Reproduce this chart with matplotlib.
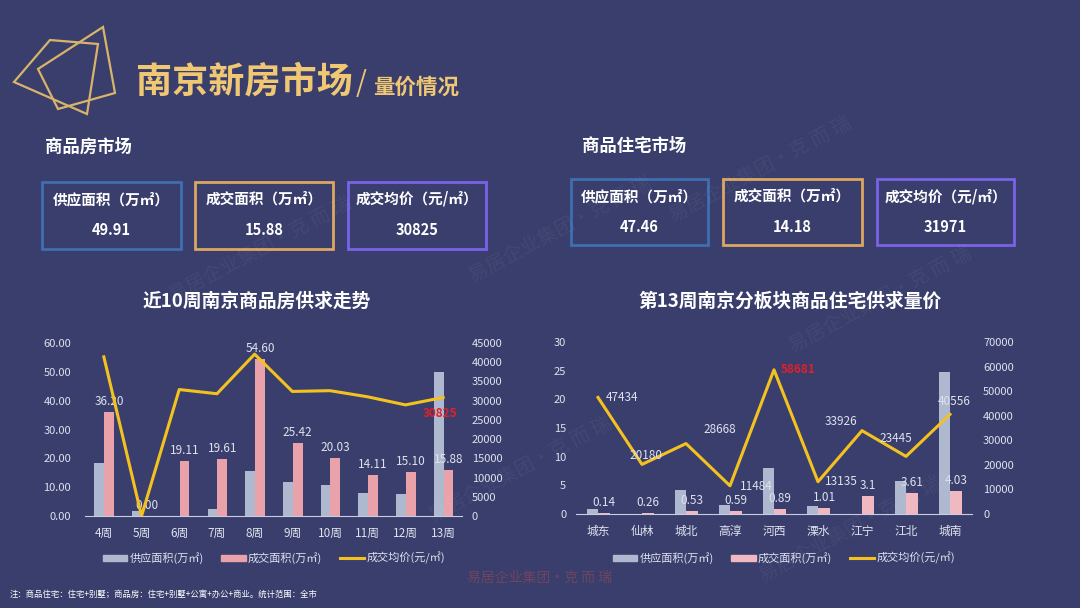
import numpy as np
import matplotlib.pyplot as plt
from matplotlib.patches import Rectangle, Polygon
from matplotlib.lines import Line2D

plt.rcParams['font.family'] = ['Noto Sans CJK SC', 'DejaVu Sans']

# left chart: last 10 weeks, commercial housing
weeks = ['4周', '5周', '6周', '7周', '8周', '9周', '10周', '11周', '12周', '13周']
supply_w = [18.4, 1.9, 0.0, 2.4, 15.7, 11.9, 10.7, 8.0, 7.6, 49.91]
deal_w = [36.20, 0.00, 19.11, 19.61, 54.60, 25.42, 20.03, 14.11, 15.10, 15.88]
price_w = [41400, 0, 32900, 31800, 42100, 32400, 32600, 31000, 28900, 30825]

# right chart: week 13 by district, residential
districts = ['城东', '仙林', '城北', '高淳', '河西', '溧水', '江宁', '江北', '城南']
supply_d = [0.9, 0.0, 4.1, 1.5, 8.1, 1.4, 0.0, 5.8, 24.8]
deal_d = [0.14, 0.26, 0.53, 0.59, 0.89, 1.01, 3.1, 3.61, 4.03]
price_d = [47434, 20180, 28668, 11484, 58681, 13135, 33926, 23445, 40556]

# summary boxes
box_labels_all = ['供应面积（万㎡）', '成交面积（万㎡）', '成交均价（元/㎡）']
box_values_all = ['49.91', '15.88', '30825']
box_values_res = ['47.46', '14.18', '31971']

BG = '#393e6c'
GOLD = '#f0c874'
GRAY = '#aeb8cf'
PINK = '#e9a2aa'
LINE = '#f4c21f'
TXT = '#dfe2ee'
W, H = 1080, 608

fig = plt.figure(figsize=(10.8, 6.08), dpi=100, facecolor=BG)


def fx(x):
    return x / W


def fy(y):
    return 1 - y / H


# header decoration
for pts in ([(14, 82), (50, 40), (98, 44), (87, 114)],
            [(38, 69), (103, 27), (115, 93), (58, 109)]):
    fig.add_artist(Polygon([(fx(a), fy(b)) for a, b in pts], closed=True, fill=False,
                           edgecolor='#d8b46a', lw=1.6, transform=fig.transFigure))
fig.text(fx(136), fy(82), '南京新房市场', color=GOLD, fontsize=26, fontweight='bold', va='center')
fig.text(fx(356), fy(84), '/', color=GOLD, fontsize=20, va='center')
fig.text(fx(373), fy(87), '量价情况', color=GOLD, fontsize=15.5, fontweight='bold', va='center')

# watermarks
for (x, y, rot) in [(560, 230, 28), (760, 170, 28), (260, 250, 28), (880, 300, 28),
                    (520, 470, 28), (850, 530, 28)]:
    fig.text(fx(x), fy(y), '易居企业集团·克 而 瑞', color='white', alpha=0.05, fontsize=14,
             rotation=rot, ha='center', va='center')
fig.text(fx(540), fy(578), '易居企业集团·克 而 瑞', color='#c0504d', alpha=0.4, fontsize=10,
         ha='center', va='center')

# section headings and boxes
fig.text(fx(45), fy(147), '商品房市场', color='white', fontsize=12.5, fontweight='bold', va='center')
fig.text(fx(582), fy(146), '商品住宅市场', color='white', fontsize=12.5, fontweight='bold', va='center')

box_colors = ['#3f6fb0', '#dba761', '#7b63e8']
left_boxes = [(42, 182, 181, 249), (195, 182, 333, 249), (348, 182, 486, 249)]
right_boxes = [(571, 179, 708, 245), (723, 179, 862, 245), (877, 179, 1014, 245)]
for boxes, vals in ((left_boxes, box_values_all), (right_boxes, box_values_res)):
    for (x0, y0, x1, y1), col, lab, val in zip(boxes, box_colors, box_labels_all, vals):
        fig.add_artist(Rectangle((fx(x0), fy(y1)), fx(x1 - x0), (y1 - y0) / H, fill=False,
                                 edgecolor=col, lw=2, transform=fig.transFigure))
        fig.text(fx((x0 + x1) / 2), fy(y0 + 17), lab, color='white', fontsize=10.5,
                 fontweight='bold', ha='center', va='center')
        fig.text(fx((x0 + x1) / 2), fy(y0 + 48), val, color='white', fontsize=10.5,
                 fontweight='bold', ha='center', va='center')

fig.text(fx(257), fy(301), '近10周南京商品房供求走势', color='white', fontsize=13.5,
         fontweight='bold', ha='center', va='center')
fig.text(fx(790), fy(301), '第13周南京分板块商品住宅供求量价', color='white', fontsize=13.5,
         fontweight='bold', ha='center', va='center')


def style(ax, ax2):
    for a in (ax, ax2):
        a.set_facecolor('none')
        for s in a.spines.values():
            s.set_visible(False)
        a.tick_params(length=0, colors=TXT, labelsize=8)
    ax.spines['bottom'].set_visible(True)
    ax.spines['bottom'].set_color('#c9cde0')
    ax.tick_params(axis='x', labelsize=8.5, pad=8)


bw = 0.26

# left chart
ax = fig.add_axes([fx(85), fy(516), fx(377), (516 - 343) / H])
ax2 = ax.twinx()
x = np.arange(len(weeks))
ax.bar(x - 0.12, supply_w, bw, color=GRAY)
ax.bar(x + 0.14, deal_w, bw, color=PINK)
ax2.plot(x, price_w, color=LINE, lw=2.2)
ax.set_xlim(-0.5, len(weeks) - 0.5)
ax.set_ylim(0, 60)
ax.set_yticks(np.arange(0, 61, 10))
ax.set_yticklabels(['%.2f' % v for v in np.arange(0, 61, 10)])
ax2.set_ylim(0, 45000)
ax2.set_yticks(np.arange(0, 45001, 5000))
ax.set_xticks(x)
ax.set_xticklabels(weeks)
style(ax, ax2)
ax.tick_params(axis='y', pad=10)
ax2.tick_params(axis='y', pad=7)
for i, v in enumerate(deal_w):
    ax.annotate('%.2f' % v, (x[i] + 0.14, v), xytext=(0, 4), textcoords='offset pixels',
                ha='center', va='bottom', color=TXT, fontsize=8.5)
ax2.annotate('%d' % price_w[-1], (x[-1], price_w[-1]), xytext=(-3, -16),
             textcoords='offset pixels', ha='center', va='center', color='#e0202a',
             fontsize=8.5, fontweight='bold')

# right chart
bx = fig.add_axes([fx(576), fy(514), fx(396), (514 - 342) / H])
bx2 = bx.twinx()
xd = np.arange(len(districts))
bx.bar(xd - 0.12, supply_d, bw, color=GRAY)
bx.bar(xd + 0.14, deal_d, bw, color='#f0b8c0')
bx2.plot(xd, price_d, color=LINE, lw=2.2)
bx.set_xlim(-0.5, len(districts) - 0.5)
bx.set_ylim(0, 30)
bx.set_yticks(np.arange(0, 31, 5))
bx2.set_ylim(0, 70000)
bx2.set_yticks(np.arange(0, 70001, 10000))
bx.set_xticks(xd)
bx.set_xticklabels(districts)
style(bx, bx2)
bx.tick_params(axis='y', pad=7)
bx2.tick_params(axis='y', pad=8)
for i, v in enumerate(deal_d):
    bx.annotate('%g' % v, (xd[i] + 0.14, v), xytext=(0, 4), textcoords='offset pixels',
                ha='center', va='bottom', color=TXT, fontsize=8.5)
offs = [(24, 0), (4, 9), (34, 14), (26, -1), (24, 0), (23, 0), (-21, 9), (-10, 18), (4, 13)]
for i, v in enumerate(price_d):
    red = v == max(price_d)
    bx2.annotate('%d' % v, (xd[i], v), xytext=offs[i], textcoords='offset pixels',
                 ha='center', va='center', color='#e0202a' if red else TXT,
                 fontsize=8.5, fontweight='bold' if red else 'normal')

# legends
for cx, pink in ((274, PINK), (784, '#f0b8c0')):
    handles = [Rectangle((0, 0), 1, 1, color=GRAY), Rectangle((0, 0), 1, 1, color=pink),
               Line2D([], [], color=LINE, lw=2.2)]
    fig.legend(handles, ['供应面积(万㎡)', '成交面积(万㎡)', '成交均价(元/㎡)'],
               loc='center', bbox_to_anchor=(fx(cx), fy(558)), ncol=3, frameon=False,
               fontsize=8, labelcolor=TXT, handlelength=2.2, handleheight=0.5,
               columnspacing=1.6, handletextpad=0.2)

fig.text(fx(10), fy(594), '注：商品住宅：住宅+别墅；商品房：住宅+别墅+公寓+办公+商业。统计范围：全市',
         color='white', fontsize=6, va='center')

fig.savefig('out.png', dpi=100, facecolor=BG)
